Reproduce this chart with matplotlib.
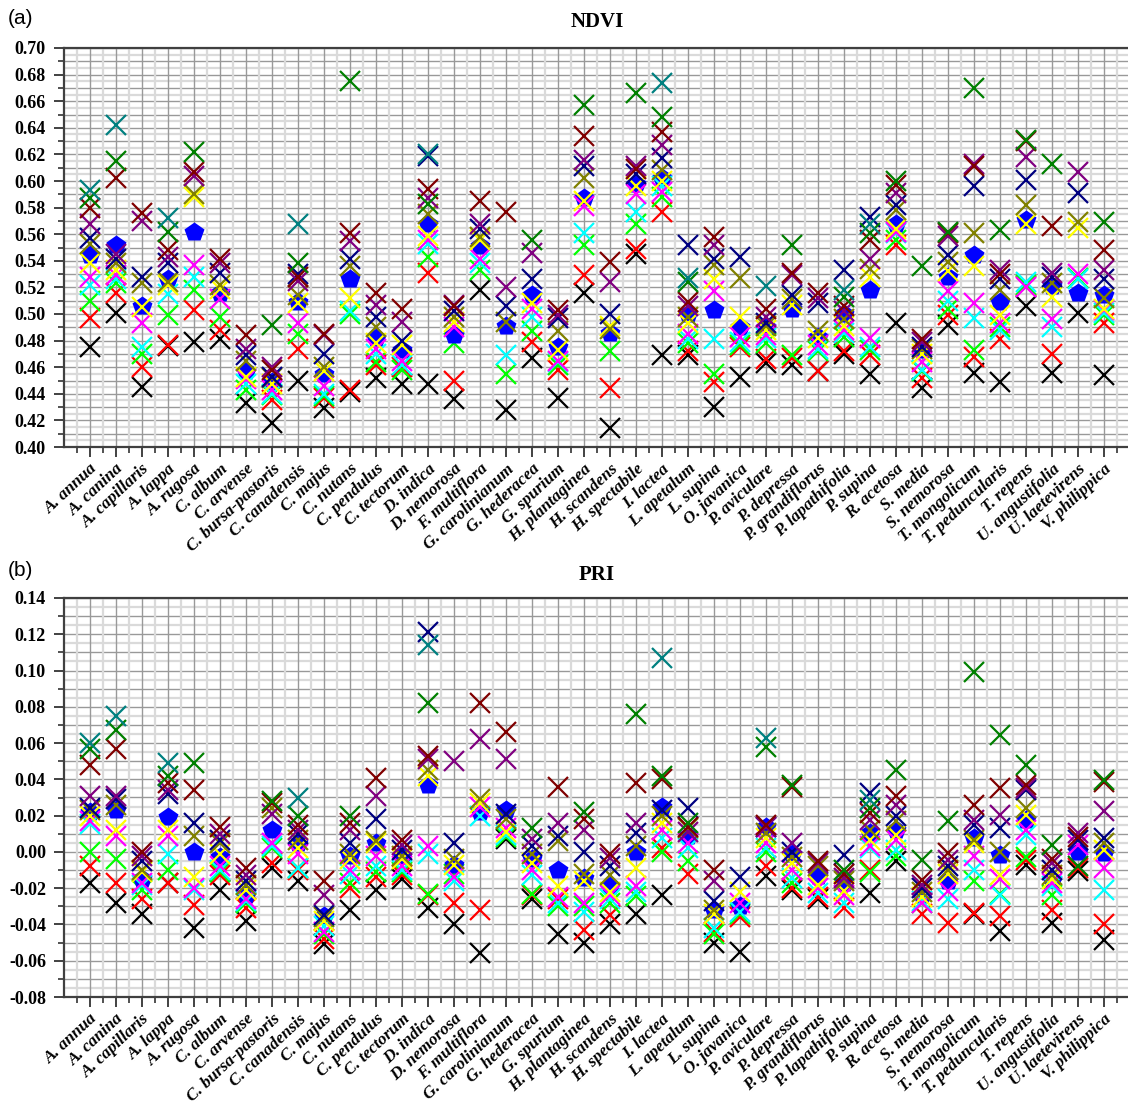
import numpy as np
import matplotlib
matplotlib.use('Agg')
import matplotlib.pyplot as plt

n = np.nan

species = ['A. annua', 'A. canina', 'A. capillaris', 'A. lappa', 'A. rugosa', 'C. album',
           'C. arvense', 'C. bursa-pastoris', 'C. canadensis', 'C. majus', 'C. nutans',
           'C. pendulus', 'C. tectorum', 'D. indica', 'D. nemorosa', 'F. multiflora',
           'G. carolinianum', 'G. hederacea', 'G. spurium', 'H. plantaginea', 'H. scandens',
           'H. spectabile', 'I. lactea', 'L. apetalum', 'L. supina', 'O. javanica',
           'P. aviculare', 'P. depressa', 'P. grandiflorus', 'P. lapathifolia', 'P. supina',
           'R. acetosa', 'S. media', 'S. nemorosa', 'T. mongolicum', 'T. peduncularis',
           'T. repens', 'U. angustifolia', 'U. laetevirens', 'V. philippica']

# NDVI, one list per colour
ndvi_black = [.475,.501,.445,.476,.479,.481,.433,.418,.450,.429,.441,.452,.447,.447,.436,.518,.428,.467,.437,.516,
              .414,.545,.469,.469,.430,.453,.463,.462,.457,.470,.455,.493,.444,.492,.456,.449,.506,.456,.501,.454]
ndvi_red = [.497,.516,.460,.477,.503,.488,n,.435,.474,.437,.443,.462,.460,.531,.450,n,n,.479,.458,.529,
            .444,.549,.577,.472,.449,.475,.466,.467,.457,.472,.469,.552,.452,.499,.468,.481,.521,.470,n,.493]
ndvi_lime = [.510,.523,.470,.499,.518,.498,.443,.439,.485,.438,.500,.464,.458,.543,.478,.533,.455,.487,.462,.552,
             .472,.568,.588,.478,.455,.477,.478,.469,.472,.483,.473,.556,.457,.504,.473,.490,.522,n,.527,.499]
ndvi_cyan = [.522,.526,.475,.515,.528,n,.447,.440,n,.440,.502,.470,.462,.553,n,.538,.469,.498,.464,.561,
             n,.577,.596,.481,.481,.479,.482,n,.474,.486,.475,.561,.458,.510,.497,.488,.524,.490,.526,.501]
ndvi_magenta = [.528,.529,.493,n,.537,.511,.451,.443,.493,.446,n,.474,.465,.556,.490,.541,n,.504,.465,.581,
                n,.590,.592,.485,.517,.483,.484,n,.477,.488,.482,.562,.464,.517,.508,.493,.520,.496,.530,.503]
ndvi_yellow = [.538,.533,.505,.522,.588,.519,.453,.447,.508,.457,.512,.478,.477,.559,.494,.556,n,.508,.473,.585,
               .491,.596,.600,.493,.526,.498,.488,.507,.482,.491,.528,.564,.470,.532,.536,.499,.568,.513,.565,.504]
ndvi_olive = [.553,.538,.523,.524,.590,.522,.465,.452,.514,.460,.536,.490,n,.575,.498,.558,.494,n,.487,.602,
              .489,n,.608,.498,.537,.527,.491,.511,.487,.496,.534,.578,.474,.539,.561,.518,.582,.523,.569,.512]
ndvi_navy = [.557,.541,.528,.538,n,.531,.469,.453,.530,.470,.541,.498,.480,.619,.502,.564,.506,.526,.497,.611,
             .500,.605,.617,.552,.541,.543,.493,.514,.508,.533,.573,.582,.475,.544,.596,.526,.601,.528,.591,.526]
ndvi_purple = [.568,.545,.570,.543,.604,.538,.474,.460,.525,.484,.555,.507,.494,.587,.507,.568,.520,.546,.499,.616,
               .524,.611,.627,.506,.552,n,.498,.529,.512,.502,.541,.591,.479,.559,.613,.533,.618,.531,.607,.533]
ndvi_wine = [.580,.602,.576,.548,.607,.541,.484,.458,.528,.485,.561,.516,.504,.594,.506,.585,.577,n,.503,.634,
             .539,.609,.637,.509,.558,n,.504,.531,.516,.506,.556,.597,.481,.561,.611,.530,.630,.566,n,.548]
ndvi_green = [.587,.615,n,.562,.622,n,n,.492,.538,n,.675,n,n,.583,n,n,n,.556,n,.657,
              n,.666,.648,.524,n,n,n,.552,n,.513,.561,.600,.536,.562,.670,.563,.631,.613,n,.569]
ndvi_teal = [.593,.642,n,.572,n,n,n,n,.568,n,n,n,n,.620,n,n,n,n,n,n,
             n,n,.674,.527,n,n,.521,n,n,.518,.568,n,n,n,n,n,n,n,n,n]
ndvi_mean = [.544,.552,.506,.526,.562,.516,.457,.449,.509,.455,.526,.482,.473,.568,.484,.551,.491,.514,.475,.587,
             .486,.598,.602,.500,.503,.490,.490,.504,.483,.500,.518,.568,.473,.528,.544,.509,.571,.521,.516,.514]

# PRI
pri_black = [-.017,-.028,-.034,-.017,-.042,-.021,-.038,-.009,-.016,-.051,-.032,-.021,-.015,-.031,-.040,-.056,.007,-.026,-.0455,-.050,
             -.040,-.034,-.0235,n,-.050,-.055,-.0134,-.021,-.026,n,-.0226,-.005,n,n,-.0345,-.0437,-.0071,-.039,-.0107,-.0483]
pri_red = [-.008,-.017,-.026,-.017,-.029,-.0125,-.031,-.006,-.010,-.048,-.020,-.014,-.013,-.024,-.028,-.032,n,-.024,-.026,-.043,
           -.035,n,.002,-.012,-.044,-.036,-.008,-.020,-.025,-.031,-.0098,n,-.0345,-.039,-.0336,-.0354,-.0043,-.032,-.0089,-.040]
pri_lime = [.000,-.004,-.021,-.010,n,-.011,-.028,.002,-.009,-.045,-.017,-.011,-.011,-.023,-.012,n,.008,-.023,-.030,-.030,
            -.028,-.0245,.000,-.005,-.045,-.034,.000,-.017,n,n,-.011,-.0024,-.028,n,-.016,-.023,-.0026,-.0235,n,n]
pri_cyan = [.0155,n,-.018,-.001,-.021,-.010,-.027,.003,-.009,-.041,-.012,-.008,-.010,-.001,-.016,.020,.0095,-.013,-.028,-.033,
            -.026,-.022,.0076,.002,-.042,-.033,.002,-.0144,-.0226,-.028,.002,.001,-.027,-.026,-.0098,-.0235,.0094,-.019,n,-.0208]
pri_magenta = [.017,.0085,-.017,.0085,-.020,-.008,-.026,.005,-.001,-.044,-.010,-.002,-.008,.003,-.014,.025,.013,-.010,-.025,-.028,
               -.024,-.019,.012,.005,n,-.028,.005,-.010,-.020,-.024,.003,.0066,-.028,-.0217,-.0024,-.015,.0122,-.017,.004,-.0089]
pri_yellow = [.020,.012,-.011,.012,-.014,-.001,-.021,n,.002,-.038,-.004,.005,-.004,.042,-.007,.027,.011,-.006,-.019,-.016,
              -.022,-.009,.016,n,-.034,-.022,.0076,-.006,-.018,-.0217,.0066,.0094,-.025,-.012,.0048,-.0125,.0205,-.015,n,.0011]
pri_olive = [.023,.026,-.010,n,.009,.005,-.018,.024,.0066,-.036,-.001,.006,-.002,.045,-.004,.029,.018,-.001,.006,-.012,
             -.0125,.003,.020,.013,-.032,n,.0104,-.003,-.008,-.016,.0122,.0168,-.022,-.010,.0066,.000,.0241,-.013,n,.0048]
pri_navy = [.024,.029,-.005,.032,.016,.0066,-.016,n,.010,-.035,.005,.018,.001,.121,.005,n,.021,.003,.0085,.000,
            -.008,.0105,.023,.024,-.027,-.014,.014,.000,n,-.0017,.0324,.0196,-.020,-.008,.015,.0131,.0342,-.0098,.0066,.0076]
pri_purple = [.031,.031,-.002,.034,n,.010,-.0125,.021,.012,-.024,.012,.031,.004,.051,.050,.062,.051,.007,.016,.012,
              -.0035,.016,n,.011,-.016,n,.014,.0048,-.006,-.0144,.0177,.026,-.018,-.0044,.0177,.0205,.0351,-.0061,.0104,.0223]
pri_wine = [.048,.057,.000,.038,.034,.014,-.009,.027,.015,-.016,.016,.041,.0066,.053,n,.082,.066,n,.036,.018,
            -.001,.038,.040,.014,-.010,n,.015,.036,-.005,-.012,.0214,.0306,-.0153,-.0007,.026,.035,.037,-.004,.008,.0388]
pri_green = [.057,.067,n,.042,.049,n,n,.028,.020,n,.020,n,n,.082,n,n,n,.013,n,.022,
             n,.076,.042,.016,n,n,.058,.037,n,-.0098,.0241,.0452,-.0044,.0168,.0993,.0645,.048,.0039,-.008,.0397]
pri_teal = [.060,.075,n,.049,n,n,n,n,.030,n,n,n,n,.114,n,n,n,n,n,n,
            n,n,.107,n,n,n,.0626,n,n,n,.0287,n,n,n,n,n,n,n,n,n]
pri_mean = [.022,.023,-.015,.019,.000,-.003,-.0235,.012,.005,-.0355,-.0024,.005,-.002,.037,-.007,.022,.023,-.004,-.010,-.0145,
            -.019,.000,.025,.0085,-.032,-.030,.014,-.001,-.0134,-.017,.0104,.0122,-.0235,-.016,.0076,-.0017,.0177,-.0153,.000,-.0007]

# drawing order follows the original series order (blue mean is 4th)
colors = ['#000000', '#ff0000', '#00ff00', 'MEAN', '#00ffff', '#ff00ff', '#ffff00',
          '#808000', '#000080', '#800080', '#800000', '#008000', '#008080']

ndvi_series = [ndvi_black, ndvi_red, ndvi_lime, ndvi_mean, ndvi_cyan, ndvi_magenta, ndvi_yellow,
               ndvi_olive, ndvi_navy, ndvi_purple, ndvi_wine, ndvi_green, ndvi_teal]
pri_series = [pri_black, pri_red, pri_lime, pri_mean, pri_cyan, pri_magenta, pri_yellow,
              pri_olive, pri_navy, pri_purple, pri_wine, pri_green, pri_teal]

serif = 'Liberation Serif'
W, H = 1128, 1111
fig = plt.figure(figsize=(W / 100, H / 100), dpi=100)


def panel(top_px, series, ymin, ymax):
    # axes box in pixels: left 64, 399 px tall, 26 px per species
    ax = fig.add_axes([64 / W, 1 - (top_px + 399) / H, 1066 / W, 399 / H])
    x = np.arange(1, 41)
    for vals, c in zip(series, colors):
        if c == 'MEAN':
            ax.plot(x, vals, ls='none', marker='p', ms=15, color='#0000ff', mec='none', zorder=3)
        else:
            ax.plot(x, vals, ls='none', marker='x', ms=14, mew=1.6, color=c, zorder=3)

    # grid: darker on every 0.01 / every species, lighter in between
    for yv in np.arange(ymin, ymax + 1e-9, 0.005):
        dark = abs(yv / 0.01 - round(yv / 0.01)) < 1e-6
        ax.axhline(yv, color='#999999' if dark else '#dadada', lw=1.0 if dark else 1.6, zorder=1)
    for xv in np.arange(0.5, 41, 0.5):
        dark = abs(xv - round(xv)) < 1e-6
        ax.axvline(xv, color='#999999' if dark else '#dadada', lw=1.0 if dark else 1.6, zorder=1)

    ax.set_xlim(0, 41)
    ax.set_ylim(ymin, ymax)
    ax.set_xticks(x)
    ax.set_xticks(np.arange(0.5, 41, 1), minor=True)
    ax.set_xticklabels(species, rotation=43, ha='right', rotation_mode='anchor',
                       fontsize=12.3, fontweight='bold', fontstyle='italic', family=serif)
    yt = np.arange(ymin, ymax + 1e-9, 0.02)
    ax.set_yticks(yt)
    ax.set_yticks(np.arange(ymin, ymax + 1e-9, 0.01), minor=True)
    ax.set_yticklabels(['%.2f' % v for v in yt], fontsize=13, fontweight='bold', family=serif)
    ax.tick_params(which='major', direction='out', length=7, width=1.3, color='#333333', pad=6)
    ax.tick_params(which='minor', direction='out', length=4, width=1.2, color='#333333')
    ax.tick_params(axis='x', which='major', pad=3)
    for s in ['left', 'bottom', 'top']:
        ax.spines[s].set_color('#404040')
        ax.spines[s].set_linewidth(1.6)
    ax.spines['right'].set_visible(False)
    return ax


ax1 = panel(48, ndvi_series, 0.40, 0.70)
ax2 = panel(598, pri_series, -0.08, 0.14)

fig.text(597 / W, 1 - 22 / H, 'NDVI', ha='center', va='center', fontsize=15, fontweight='bold', family=serif)
fig.text(597 / W, 1 - 575 / H, 'PRI', ha='center', va='center', fontsize=15, fontweight='bold', family=serif)
fig.text(8 / W, 1 - 18 / H, '(a)', ha='left', va='center', fontsize=15, family='Liberation Sans')
fig.text(8 / W, 1 - 570 / H, '(b)', ha='left', va='center', fontsize=15, family='Liberation Sans')

fig.savefig('out.png', dpi=100)
